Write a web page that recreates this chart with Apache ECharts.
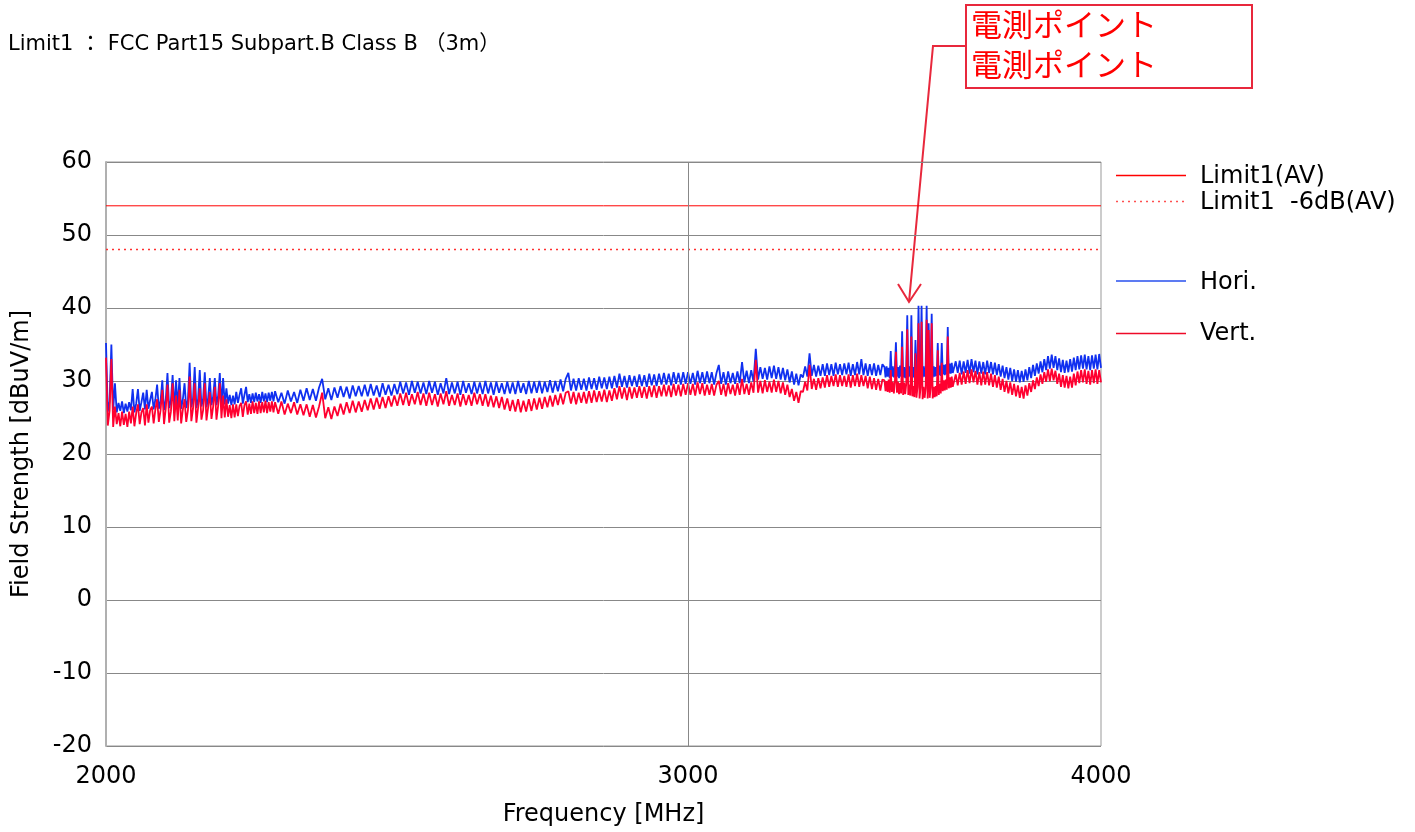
<!DOCTYPE html>
<html>
<head>
<meta charset="utf-8">
<script src="https://cdn.jsdelivr.net/npm/echarts@6/dist/echarts.min.js"></script>
<style>
html,body{margin:0;padding:0;background:#fff;}
#main{width:1415px;height:832px;}
</style>
</head>
<body>
<div id="main"></div>
<script>
// ---------- DATA ----------
const titleText = 'Limit1 ： FCC Part15 Subpart.B Class B （3m）';
const xTicks = [2000, 3000, 4000];
const xGridLines = [3000];
const yMin = -20, yMax = 60, yStep = 10;
const limitAV = 54;
const limitAV6dB = 48;
const annotationText = '電測ポイント';

const freqs = [
2000,2002.5,2005,2007.5,2010,2012.5,2015,2017.5,2020,2022.5,
2025,2027.5,2030,2032.5,2035,2037.5,2040,2042.5,2045,2047.5,
2050,2052.5,2055,2057.5,2060,2062.5,2065,2067.5,2070,2072.5,
2075,2077.5,2080,2082.5,2085,2087.5,2090,2092.5,2095,2097.5,
2100,2102.5,2105,2107.5,2110,2112.5,2115,2117.5,2120,2122.5,
2125,2127.5,2130,2132.5,2135,2137.5,2140,2142.5,2145,2147.5,
2150,2152.5,2155,2157.5,2160,2162.5,2165,2167.5,2170,2172.5,
2175,2177.5,2180,2182.5,2185,2187.5,2190,2192.5,2195,2197.5,
2200,2202.5,2205,2207.5,2210,2212.5,2215,2217.5,2220,2222.5,
2225,2227.5,2230,2232.5,2235,2237.5,2240,2242.5,2245,2247.5,
2250,2255,2260,2265,2270,2275,2280,2285,2290,2295,
2300,2305,2310,2315,2320,2325,2330,2335,2340,2345,
2350,2355,2360,2365,2370,2375,2380,2385,2390,2395,
2400,2405,2410,2415,2420,2425,2430,2435,2440,2445,
2450,2455,2460,2465,2470,2475,2480,2485,2490,2495,
2500,2505,2510,2515,2520,2525,2530,2535,2540,2545,
2550,2555,2560,2565,2570,2575,2580,2585,2590,2595,
2600,2605,2610,2615,2620,2625,2630,2635,2640,2645,
2650,2655,2660,2665,2670,2675,2680,2685,2690,2695,
2700,2705,2710,2715,2720,2725,2730,2735,2740,2745,
2750,2755,2760,2765,2770,2775,2780,2785,2790,2795,
2800,2805,2810,2815,2820,2825,2830,2835,2840,2845,
2850,2855,2860,2865,2870,2875,2880,2885,2890,2895,
2900,2905,2910,2915,2920,2925,2930,2935,2940,2945,
2950,2955,2960,2965,2970,2975,2980,2985,2990,2995,
3000,3005,3010,3015,3020,3025,3030,3035,3040,3045,
3050,3055,3060,3065,3070,3075,3080,3085,3090,3095,
3100,3105,3110,3115,3120,3125,3130,3135,3140,3145,
3150,3155,3160,3165,3170,3175,3180,3185,3190,3195,
3200,3205,3210,3215,3220,3225,3230,3235,3240,3245,
3250,3255,3260,3265,3270,3275,3280,3285,3290,3295,
3300,3305,3310,3315,3320,3325,3330,3335,3340,3345,
3350,3355,3360,3365,3370,3375,3380,3385,3390,3395,
3400,3405,3410,3415,3420,3425,3430,3435,
3440,3442.5,3445,3447.5,3450,3452.5,3455,3457.5,3460,3462.5,
3465,3467.5,3470,3472.5,3475,3477.5,3480,3482.5,3485,3487.5,
3490,3492.5,3495,3497.5,3500,3502.5,3505,3507.5,3510,3512.5,
3515,3517.5,3520,3522.5,3525,3527.5,3530,3532.5,3535,3537.5,
3540,3542.5,3545,3547.5,3550,3552.5,3555,3557.5,3560,3562.5,
3565,3567.5,3570,3572.5,3575,3577.5,3580,3582.5,3585,3587.5,
3590,3592.5,3595,3597.5,3600,3602.5,3605,3607.5,
3610,3615,3620,3625,3630,3635,3640,3645,3650,3655,
3660,3665,3670,3675,3680,3685,3690,3695,3700,3705,
3710,3715,3720,3725,3730,3735,3740,3745,3750,3755,
3760,3765,3770,3775,3780,3785,3790,3795,3800,3805,
3810,3815,3820,3825,3830,3835,3840,3845,3850,3855,
3860,3865,3870,3875,3880,3885,3890,3895,3900,3905,
3910,3915,3920,3925,3930,3935,3940,3945,3950,3955,
3960,3965,3970,3975,3980,3985,3990,3995,4000
];

const hori = [
35.2,25.8,27.2,35.0,26.0,29.7,25.7,27.0,25.9,27.2,
25.6,26.9,25.8,27.1,26.0,28.9,25.7,26.9,28.9,25.9,
27.1,28.4,26.1,28.8,26.2,27.4,28.5,26.1,27.5,29.5,
26.2,27.3,30.1,26.0,27.4,31.1,26.3,27.3,30.8,26.1,
30.1,26.4,30.4,26.2,27.5,29.7,26.3,27.4,32.5,26.4,
27.6,31.9,26.3,27.5,31.5,26.5,27.6,31.2,26.4,27.7,
30.4,26.7,27.9,30.4,26.7,28.0,31.1,26.6,30.4,26.8,
29.0,26.9,28.1,26.7,28.0,26.8,28.5,27.0,28.1,29.0,
26.9,28.1,29.2,27.1,28.2,27.0,28.3,27.1,28.4,27.2,
28.2,27.0,28.5,27.2,28.3,27.1,28.4,27.3,28.5,27.2,
28.6,27.1,28.4,26.9,28.7,27.2,28.5,27.0,28.8,27.3,
29.0,27.4,28.9,27.3,29.1,30.3,27.5,29.0,27.4,29.1,
27.7,29.3,27.8,29.2,27.6,29.4,27.9,29.3,27.9,29.5,
27.9,29.6,28.0,29.4,27.8,29.7,28.1,29.5,28.0,29.6,
28.2,29.9,28.3,29.8,28.1,30.0,28.4,29.9,28.3,29.8,
28.2,30.0,28.4,29.9,28.1,29.7,28.3,30.4,28.2,29.8,
28.3,29.9,28.1,30.0,28.4,29.7,28.2,29.9,28.3,29.8,
28.2,30.0,28.3,29.8,28.1,29.9,28.4,29.7,28.2,29.9,
28.3,29.8,28.2,30.0,28.4,29.7,28.2,30.0,28.3,29.9,
28.4,30.0,28.3,29.9,28.5,30.1,28.4,30.0,28.6,30.2,
28.6,30.3,31.1,28.7,30.3,28.7,30.4,28.8,30.3,28.7,
30.5,28.9,30.4,28.8,30.6,29.0,30.5,28.9,30.6,29.0,
30.7,29.1,31.0,29.2,30.7,29.1,30.8,29.3,30.7,29.2,
30.9,29.3,30.8,29.2,31.0,29.4,30.9,29.3,31.0,29.5,
31.1,29.5,31.0,29.4,31.2,29.6,31.1,29.5,31.2,29.6,
31.2,29.6,31.1,29.5,31.4,29.7,31.2,29.6,31.3,29.7,
31.2,29.5,31.1,32.2,29.6,31.2,29.5,31.3,29.7,31.1,
29.6,31.3,29.7,32.6,29.8,31.4,29.7,31.5,29.9,34.4,
30.2,31.9,30.3,31.8,30.2,32.0,30.4,32.1,30.3,31.9,
30.2,31.8,30.1,31.6,29.8,31.3,29.5,31.0,29.4,30.9,
30.5,32.0,30.6,33.8,30.7,32.2,30.6,32.1,30.7,32.3,
30.7,32.4,30.8,32.3,30.7,32.5,30.9,32.3,30.8,32.4,
30.9,32.5,30.7,32.3,30.8,32.6,30.9,33.0,30.8,32.4,
30.7,32.3,30.8,32.4,30.7,32.2,30.8,32.3,
31.9,30.5,32.0,30.6,31.8,30.4,34.1,30.6,32.0,30.5,
31.8,35.3,30.6,31.9,30.4,32.1,30.6,36.8,30.5,31.9,
30.4,31.8,39.0,30.5,32.0,30.6,39.0,30.4,31.9,30.5,
35.6,30.6,31.8,40.3,30.4,31.9,40.3,30.5,32.0,30.6,
31.8,40.3,30.5,37.9,30.6,31.9,39.2,30.5,32.0,30.6,
31.9,30.7,35.2,30.8,32.1,30.7,35.2,30.9,32.2,30.8,
32.3,30.9,37.4,31.0,32.4,31.0,32.5,31.1,
31.0,32.7,31.1,32.8,30.9,32.7,31.1,32.9,31.0,33.0,
31.2,32.8,30.9,32.7,31.0,32.6,30.9,32.8,31.1,32.6,
30.9,32.5,30.8,32.3,30.6,32.1,30.4,31.9,30.2,31.8,
30.0,31.6,29.9,31.5,29.8,31.4,29.9,31.6,30.1,31.9,
30.4,32.2,30.7,32.4,31.0,32.7,31.2,33.0,31.5,33.4,
31.7,33.6,31.8,33.4,31.5,33.1,31.2,32.9,31.1,32.8,
31.2,33.0,31.3,33.2,31.5,33.4,31.6,33.5,31.7,33.6,
31.6,33.4,31.5,33.5,31.7,33.6,31.6,33.7,31.8
];

const vert = [
33.2,23.9,25.9,33.0,23.7,26.5,24.1,25.6,23.8,25.8,
24.0,25.5,23.7,25.8,24.2,26.5,23.8,25.6,26.8,24.1,
25.7,26.3,23.9,26.8,24.3,26.0,26.5,24.2,26.1,27.5,
24.4,26.0,28.8,24.1,26.2,29.5,24.3,25.8,29.7,24.5,
28.0,24.6,28.8,24.2,26.1,27.5,24.4,26.0,30.6,24.5,
26.2,29.7,24.3,26.3,29.0,24.7,26.0,29.7,24.6,26.4,
28.5,24.8,26.5,29.2,24.7,26.6,29.7,24.9,28.0,25.0,
27.5,25.1,26.7,24.9,26.8,25.0,26.8,25.2,26.6,27.0,
25.1,26.7,27.2,25.4,26.9,25.5,27.2,25.6,27.0,25.5,
27.2,25.6,27.1,25.7,27.3,25.6,27.1,25.8,27.2,25.7,
27.1,25.5,27.2,25.4,26.9,25.6,27.1,25.4,26.8,25.3,
26.8,25.1,26.7,25.0,26.5,28.4,24.9,26.4,24.8,26.5,
25.2,26.9,25.4,27.1,25.6,27.3,25.7,27.2,25.8,27.4,
26.0,27.6,26.1,27.7,26.2,27.8,26.3,27.9,26.5,28.0,
26.6,28.3,26.7,28.4,26.6,28.2,26.8,28.5,26.7,28.3,
26.6,28.4,26.7,28.2,26.5,28.3,26.8,28.6,26.6,28.1,
26.7,28.3,26.5,28.2,26.7,28.1,26.6,28.4,26.8,28.2,
26.6,28.2,26.5,28.0,26.4,27.9,26.3,27.8,26.1,27.6,
25.9,27.4,25.8,27.5,25.7,27.3,25.8,27.5,25.9,27.6,
26.1,27.7,26.2,27.8,26.4,28.0,26.5,28.1,26.7,28.3,
26.8,28.4,28.6,26.9,28.5,26.8,28.4,27.0,28.5,26.9,
28.6,27.0,28.7,27.1,28.6,27.2,28.8,27.1,28.7,27.3,
29.0,27.5,29.3,27.6,29.1,27.4,29.2,27.6,29.1,27.7,
29.3,27.7,29.2,27.6,29.3,27.8,29.4,27.7,29.3,27.9,
29.5,27.9,29.4,27.8,29.6,28.0,29.5,27.9,29.6,28.1,
29.7,28.1,29.6,28.0,29.8,28.2,29.7,28.0,29.5,28.1,
29.6,28.0,29.5,30.0,28.1,29.6,27.9,29.7,28.2,29.5,
28.0,29.7,28.1,30.3,28.2,29.6,28.1,29.8,28.4,32.9,
28.4,30.0,28.3,30.1,28.5,29.9,28.4,30.2,28.5,30.0,
28.3,29.8,28.1,29.5,27.8,28.9,27.3,28.5,27.0,28.6,
28.5,29.9,28.7,32.2,28.9,30.3,28.8,30.4,29.0,30.5,
29.1,30.8,29.2,30.7,29.3,30.9,29.2,30.8,29.3,30.7,
29.2,30.9,29.1,30.8,29.3,31.0,29.2,30.8,29.3,30.7,
29.0,30.6,28.9,30.4,28.8,30.3,28.7,30.2,
30.1,28.6,30.0,28.5,30.2,28.4,31.5,28.5,29.9,28.3,
29.8,34.0,28.4,29.9,28.2,29.7,28.3,34.7,28.1,29.8,
28.2,29.6,37.1,28.1,29.5,28.0,36.1,27.9,29.3,27.8,
33.8,27.7,29.2,37.9,27.6,29.1,38.1,27.5,29.2,27.7,
29.0,38.4,27.6,37.0,27.7,29.1,37.9,27.6,29.2,27.8,
29.3,27.9,34.2,28.1,29.6,28.3,32.5,28.6,30.1,28.7,
30.2,28.8,36.1,29.0,30.5,29.1,30.6,29.2,
29.2,30.9,29.4,31.1,29.5,31.3,29.6,31.5,29.7,31.6,
29.8,31.4,29.5,31.2,29.4,31.3,29.5,31.2,29.4,31.0,
29.2,30.8,29.1,30.6,28.8,30.3,28.5,30.0,28.3,29.8,
28.1,29.6,27.9,29.4,27.7,29.2,27.6,29.4,28.0,29.7,
28.5,30.1,28.9,30.5,29.3,30.9,29.6,31.2,29.9,31.6,
30.0,31.7,30.1,31.4,29.6,31.0,29.2,30.8,29.1,30.7,
29.0,30.6,29.1,31.0,29.4,31.3,29.7,31.5,29.8,31.6,
29.6,31.4,29.5,31.5,29.7,31.6,29.6,31.5,29.8
];

// ---------- CHART ----------
const pairs = vals => freqs.map((f, i) => [f, vals[i]]);
const FONT = 'DejaVu Sans';
const chart = echarts.init(document.getElementById('main'), null, {renderer: 'canvas'});

const legendItems = [
  {text: 'Limit1(AV)', y: 177, lineY: 175.5, color: '#ff0000', width: 1.6, dash: null},
  {text: 'Limit1  -6dB(AV)', y: 203, lineY: 201.5, color: '#ff5050', width: 1.6, dash: [2, 4]},
  {text: 'Hori.', y: 283, lineY: 281, color: '#5d7bf2', width: 2, dash: null},
  {text: 'Vert.', y: 334, lineY: 333.5, color: '#ee0a28', width: 1.3, dash: null}
];
const graphics = [
  {type: 'text', left: 8, top: 34, style: {text: titleText, font: '21px "DejaVu Sans", "Noto Sans CJK JP"', fill: '#000'}}
];
legendItems.forEach(it => {
  graphics.push({type: 'line', shape: {x1: 1116, y1: it.lineY, x2: 1186, y2: it.lineY},
    style: {stroke: it.color, lineWidth: it.width, lineDash: it.dash}});
  graphics.push({type: 'text', style: {x: 1200, y: it.y, text: it.text, font: '24px "DejaVu Sans"', fill: '#000',
    textAlign: 'left', textVerticalAlign: 'middle'}});
});
// annotation callout
graphics.push({type: 'polyline', shape: {points: [[966, 46], [933, 46], [909, 302]]},
  style: {stroke: '#e8283c', lineWidth: 2, fill: null}});
graphics.push({type: 'polyline', shape: {points: [[898, 284], [909, 302], [921, 284]]},
  style: {stroke: '#e8283c', lineWidth: 2, fill: null}});
graphics.push({type: 'rect', shape: {x: 966, y: 5, width: 286, height: 83},
  style: {fill: '#fff', stroke: '#e8283c', lineWidth: 2}});
graphics.push({type: 'text', style: {x: 971, y: 24, text: annotationText, font: '31px "Noto Sans CJK JP"', fill: '#ff0000', textAlign: 'left', textVerticalAlign: 'middle'}});
graphics.push({type: 'text', style: {x: 971, y: 64, text: annotationText, font: '31px "Noto Sans CJK JP"', fill: '#ff0000', textAlign: 'left', textVerticalAlign: 'middle'}});

const option = {
  animation: false,
  textStyle: {fontFamily: FONT},
  grid: {left: 106, top: 162, right: 314, bottom: 86, show: true, borderColor: '#999', borderWidth: 1},
  xAxis: {
    type: 'log', logBase: 10, min: 2000, max: 4000,
    name: 'Frequency [MHz]', nameLocation: 'middle', nameGap: 57,
    nameTextStyle: {fontSize: 24, color: '#000', fontFamily: FONT},
    axisLine: {show: false}, axisTick: {show: false}, splitLine: {show: false},
    axisLabel: {customValues: xTicks, fontSize: 24, color: '#000', margin: 19, fontFamily: FONT,
      formatter: v => String(Math.round(v))}
  },
  yAxis: {
    type: 'value', min: yMin, max: yMax, interval: yStep,
    name: 'Field Strength [dBuV/m]', nameLocation: 'middle', nameGap: 72, nameRotate: 90,
    nameTextStyle: {fontSize: 24, color: '#000', fontFamily: FONT},
    axisLine: {show: true, lineStyle: {color: '#b0b0b0', width: 2}},
    axisTick: {show: false},
    splitLine: {show: true, lineStyle: {color: '#888', width: 1}},
    axisLabel: {fontSize: 24, color: '#000', margin: 14, fontFamily: FONT}
  },
  series: [
    {
      name: 'Limit1(AV)', type: 'line', data: [[2000, limitAV], [4000, limitAV]],
      showSymbol: false, silent: true, lineStyle: {color: '#ff0000', width: 1},
      markLine: {silent: true, symbol: 'none', label: {show: false},
        lineStyle: {color: '#888', width: 1, type: 'solid'},
        data: xGridLines.map(v => ({xAxis: v}))}
    },
    {
      name: 'Limit1 -6dB(AV)', type: 'line', data: [[2000, limitAV6dB], [4000, limitAV6dB]],
      showSymbol: false, silent: true, lineStyle: {color: '#ff3030', width: 1.5, type: [2, 4]}
    },
    {
      name: 'Hori.', type: 'line', data: pairs(hori), showSymbol: false, silent: true,
      lineStyle: {color: '#1030f0', width: 1.8}
    },
    {
      name: 'Vert.', type: 'line', data: pairs(vert), showSymbol: false, silent: true,
      lineStyle: {color: '#ff0030', width: 1.8}
    }
  ],
  graphic: graphics
};
chart.setOption(option);
</script>
</body>
</html>
